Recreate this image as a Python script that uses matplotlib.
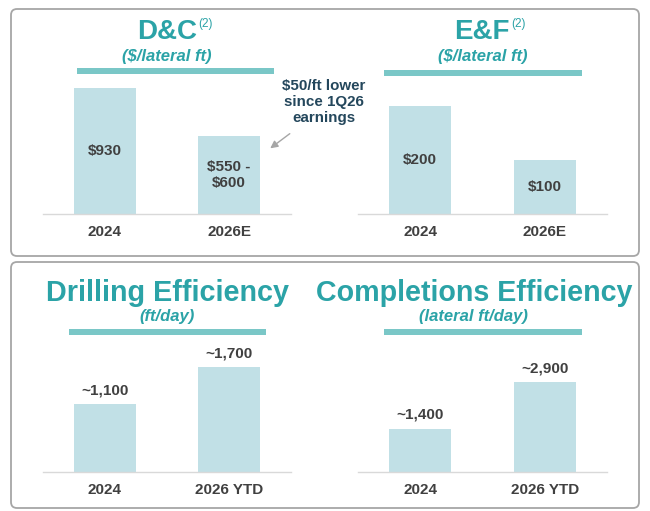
import matplotlib
matplotlib.use("Agg")
import matplotlib.pyplot as plt
from matplotlib.patches import FancyBboxPatch, Rectangle

plt.rcParams['font.family'] = ['Liberation Sans', 'DejaVu Sans']

# ---- data ----
dc_categories = ["2024", "2026E"]
dc_values = [930, 575]
dc_labels = ["$930", "$550 -\n$600"]

ef_categories = ["2024", "2026E"]
ef_values = [200, 100]
ef_labels = ["$200", "$100"]

drill_categories = ["2024", "2026 YTD"]
drill_values = [1100, 1700]
drill_labels = ["~1,100", "~1,700"]

comp_categories = ["2024", "2026 YTD"]
comp_values = [1400, 2900]
comp_labels = ["~1,400", "~2,900"]

W, H = 650, 511
fig = plt.figure(figsize=(W / 100, H / 100), dpi=100)
fig.patch.set_facecolor("white")

TEAL = "#2BA3A7"
TEAL_BAR = "#7AC7C7"
BAR = "#C1E0E6"
TXT = "#404040"
ANN = "#24475C"
GRID = "#D9D9D9"

# overlay axes in pixel coordinates
ov = fig.add_axes([0, 0, 1, 1], zorder=0)
ov.set_xlim(0, W)
ov.set_ylim(H, 0)
ov.axis("off")

for (x0, y0, x1, y1) in [(11, 9, 639, 256), (11, 262, 639, 508)]:
    ov.add_patch(FancyBboxPatch((x0 + 6, y0 + 6), x1 - x0 - 12, y1 - y0 - 12,
                                boxstyle="round,pad=6", fc="white", ec="#A6A6A6", lw=1.3))

def px_axes(left, right, base, top):
    return fig.add_axes([left / W, 1 - base / H, (right - left) / W, (base - top) / H], zorder=2)

def panel(ax, cats, vals, ymax, labels, inside):
    ax.patch.set_alpha(0)
    x = list(range(len(cats)))
    ax.bar(x, vals, width=0.5, color=BAR, zorder=2)
    ax.set_xlim(-0.5, 1.5)
    ax.set_ylim(0, ymax)
    for s in ["top", "left", "right"]:
        ax.spines[s].set_visible(False)
    ax.spines["bottom"].set_color(GRID)
    ax.spines["bottom"].set_linewidth(1.0)
    ax.set_yticks([])
    ax.set_xticks(x)
    ax.set_xticklabels(cats, fontsize=11, fontweight="bold", color=TXT)
    ax.tick_params(axis="x", length=0, pad=8)
    for xi, v, lab in zip(x, vals, labels):
        if inside:
            ax.text(xi, v / 2, lab, ha="center", va="center", fontsize=11,
                    fontweight="bold", color=TXT, linespacing=1.25, zorder=3)
        else:
            ax.annotate(lab, (xi, v), xytext=(0, 10), textcoords="offset points",
                        ha="center", va="center", fontsize=11, fontweight="bold", color=TXT)

ax1 = px_axes(43, 291, 214, 80)
panel(ax1, dc_categories, dc_values, 989, dc_labels, True)
ax2 = px_axes(358, 607, 214, 80)
panel(ax2, ef_categories, ef_values, 248, ef_labels, True)
ax3 = px_axes(43, 291, 472, 340)
panel(ax3, drill_categories, drill_values, 2135, drill_labels, False)
ax4 = px_axes(358, 607, 472, 340)
panel(ax4, comp_categories, comp_values, 4270, comp_labels, False)

# titles
def title(x, y, s, size, sup=None, supx=None):
    ov.text(x, y, s, ha="center", va="baseline", fontsize=size, fontweight="bold", color=TEAL)
    if sup:
        ov.text(supx, y - 15, sup, ha="left", va="center", fontsize=8.5, color=TEAL)

title(167, 39, "D&C", 20, "(2)", 198)
title(482, 39, "E&F", 20, "(2)", 511)
title(167, 301, "Drilling Efficiency", 20.7)
title(474, 301, "Completions Efficiency", 20.6)

for x, y, s in [(167, 57, "($/lateral ft)"), (483, 57, "($/lateral ft)"),
                (167, 317, "(ft/day)"), (473, 317, "(lateral ft/day)")]:
    ov.text(x, y, s, ha="center", va="center", fontsize=12, fontweight="bold",
            style="italic", color=TEAL)

for (x0, x1, yc) in [(77, 274, 71), (384, 582, 73), (69, 266, 332), (384, 582, 332)]:
    ov.add_patch(Rectangle((x0, yc - 3), x1 - x0, 6, fc=TEAL_BAR, ec="none"))

# annotation
ov.text(324, 102, "$50/ft lower\nsince 1Q26\nearnings", ha="center", va="center",
        fontsize=10.9, fontweight="bold", color=ANN, linespacing=1.2)
ov.annotate("", xy=(268, 150), xytext=(292, 132),
            arrowprops=dict(arrowstyle="-|>", color="#A6A6A6", lw=1.0, mutation_scale=11))

fig.savefig("out.png", dpi=100, facecolor="white")
